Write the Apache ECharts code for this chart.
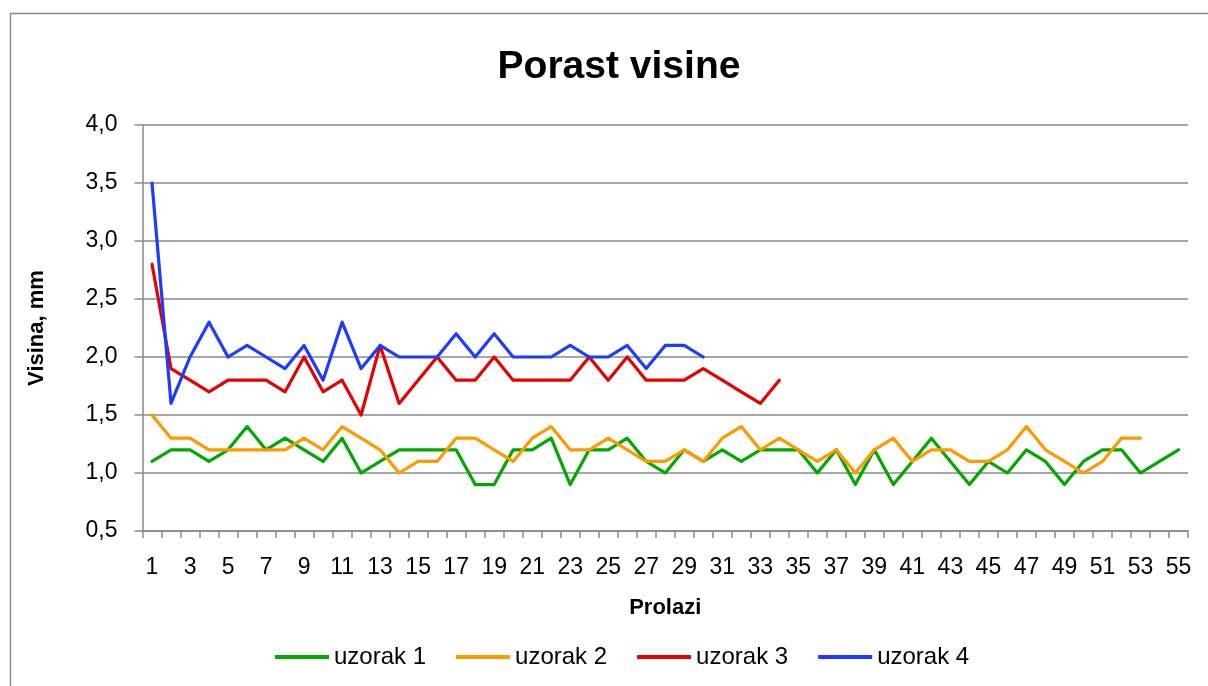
<!DOCTYPE html>
<html>
<head>
<meta charset="utf-8">
<script src="https://cdn.jsdelivr.net/npm/echarts@6/dist/echarts.min.js"></script>
<style>
  html, body { margin: 0; padding: 0; background: #fff; }
  #chart { width: 1208px; height: 686px; }
</style>
</head>
<body>
<div id="chart"></div>
<script>
// Passes 1..55
const passes = Array.from({ length: 55 }, (_, i) => String(i + 1));

const seriesNames = ['uzorak 1', 'uzorak 2', 'uzorak 3', 'uzorak 4'];

const uzorak1 = [1.1, 1.2, 1.2, 1.1, 1.2, 1.4, 1.2, 1.3, 1.2, 1.1,
                 1.3, 1.0, 1.1, 1.2, 1.2, 1.2, 1.2, 0.9, 0.9, 1.2,
                 1.2, 1.3, 0.9, 1.2, 1.2, 1.3, 1.1, 1.0, 1.2, 1.1,
                 1.2, 1.1, 1.2, 1.2, 1.2, 1.0, 1.2, 0.9, 1.2, 0.9,
                 1.1, 1.3, 1.1, 0.9, 1.1, 1.0, 1.2, 1.1, 0.9, 1.1,
                 1.2, 1.2, 1.0, 1.1, 1.2];

const uzorak2 = [1.5, 1.3, 1.3, 1.2, 1.2, 1.2, 1.2, 1.2, 1.3, 1.2,
                 1.4, 1.3, 1.2, 1.0, 1.1, 1.1, 1.3, 1.3, 1.2, 1.1,
                 1.3, 1.4, 1.2, 1.2, 1.3, 1.2, 1.1, 1.1, 1.2, 1.1,
                 1.3, 1.4, 1.2, 1.3, 1.2, 1.1, 1.2, 1.0, 1.2, 1.3,
                 1.1, 1.2, 1.2, 1.1, 1.1, 1.2, 1.4, 1.2, 1.1, 1.0,
                 1.1, 1.3, 1.3];

const uzorak3 = [2.8, 1.9, 1.8, 1.7, 1.8, 1.8, 1.8, 1.7, 2.0, 1.7,
                 1.8, 1.5, 2.1, 1.6, 1.8, 2.0, 1.8, 1.8, 2.0, 1.8,
                 1.8, 1.8, 1.8, 2.0, 1.8, 2.0, 1.8, 1.8, 1.8, 1.9,
                 1.8, 1.7, 1.6, 1.8];

const uzorak4 = [3.5, 1.6, 2.0, 2.3, 2.0, 2.1, 2.0, 1.9, 2.1, 1.8,
                 2.3, 1.9, 2.1, 2.0, 2.0, 2.0, 2.2, 2.0, 2.2, 2.0,
                 2.0, 2.0, 2.1, 2.0, 2.0, 2.1, 1.9, 2.1, 2.1, 2.0];

const seriesData = [uzorak1, uzorak2, uzorak3, uzorak4];
const seriesColors = ['#00A800', '#FF9900', '#E60000', '#1E3CFF'];

const FONT = "'Liberation Sans', Arial, sans-serif";
const GRID_COLOR = '#8a8a8a';

const chart = echarts.init(document.getElementById('chart'), null, { renderer: 'canvas' });

chart.setOption({
  animation: false,
  backgroundColor: '#ffffff',
  textStyle: { fontFamily: FONT },
  graphic: [{
    type: 'rect',
    shape: { x: 10.5, y: 13.5, width: 1240, height: 700 },
    style: { fill: 'none', stroke: GRID_COLOR, lineWidth: 1.5 },
    silent: true,
    z: -1
  }],
  title: {
    text: 'Porast visine',
    left: 614,
    textAlign: 'center',
    top: 43,
    textStyle: { fontFamily: FONT, fontSize: 39, fontWeight: 'bold', color: '#000' }
  },
  legend: {
    data: seriesNames,
    top: 640,
    left: 270,
    icon: 'rect',
    itemWidth: 54,
    itemHeight: 4,
    itemGap: 30,
    textStyle: { fontFamily: FONT, fontSize: 24, color: '#000' }
  },
  grid: { left: 142.5, right: 20, top: 125, bottom: 155, containLabel: false },
  xAxis: {
    type: 'category',
    data: passes,
    boundaryGap: true,
    name: 'Prolazi',
    nameLocation: 'middle',
    nameGap: 66,
    nameTextStyle: { fontFamily: FONT, fontSize: 22, fontWeight: 'bold', color: '#000' },
    axisLine: { lineStyle: { color: GRID_COLOR, width: 1.5 } },
    axisTick: { show: true, interval: 0, length: 7, lineStyle: { color: GRID_COLOR, width: 1.5 } },
    axisLabel: { interval: 1, margin: 25, fontFamily: FONT, fontSize: 23, color: '#000' },
    splitLine: { show: false }
  },
  yAxis: {
    type: 'value',
    min: 0.5,
    max: 4,
    interval: 0.5,
    name: 'Visina, mm',
    nameLocation: 'middle',
    nameGap: 95,
    nameTextStyle: { fontFamily: FONT, fontSize: 22, fontWeight: 'bold', color: '#000' },
    axisLine: { show: true, lineStyle: { color: GRID_COLOR, width: 1.5 } },
    axisTick: { show: true, length: 8, lineStyle: { color: GRID_COLOR, width: 1.5 } },
    axisLabel: {
      margin: 25,
      fontFamily: FONT,
      fontSize: 23,
      color: '#000',
      formatter: v => v.toFixed(1).replace('.', ',')
    },
    splitLine: { show: true, lineStyle: { color: GRID_COLOR, width: 1.5 } }
  },
  series: seriesNames.map((name, i) => ({
    name,
    type: 'line',
    data: seriesData[i],
    symbol: 'none',
    showSymbol: false,
    smooth: false,
    color: seriesColors[i],
    lineStyle: { width: 3.2, color: seriesColors[i], join: 'round', cap: 'round' }
  }))
});
</script>
</body>
</html>
